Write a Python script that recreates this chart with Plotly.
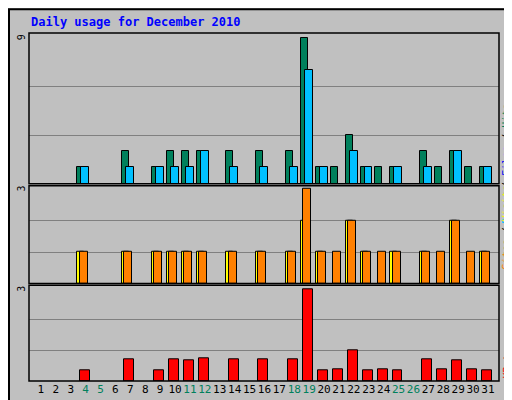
import plotly.graph_objects as go

days = list(range(1, 32))
hits = [0, 0, 0, 1, 0, 0, 2, 0, 1, 2, 2, 2, 0, 2, 0, 2, 0, 2, 9, 1, 1, 3, 1, 1, 1, 0, 2, 1, 2, 1, 1]
files = [0, 0, 0, 1, 0, 0, 1, 0, 1, 1, 1, 2, 0, 1, 0, 1, 0, 1, 7, 1, 0, 2, 1, 0, 1, 0, 1, 0, 2, 0, 1]
pages = [0] * 31
visits = [0, 0, 0, 1, 0, 0, 1, 0, 1, 1, 1, 1, 0, 1, 0, 1, 0, 1, 2, 1, 0, 2, 1, 0, 1, 0, 1, 0, 2, 0, 1]
sites = [0, 0, 0, 1, 0, 0, 1, 0, 1, 1, 1, 1, 0, 1, 0, 1, 0, 1, 3, 1, 1, 2, 1, 1, 1, 0, 1, 1, 2, 1, 1]
kbytes = [0, 0, 0, 0.36, 0, 0, 0.72, 0, 0.36, 0.72, 0.68, 0.74, 0, 0.72, 0, 0.72, 0, 0.72, 2.99,
          0.36, 0.39, 1.01, 0.36, 0.39, 0.36, 0, 0.72, 0.39, 0.68, 0.39, 0.36]
weekend = [4, 5, 11, 12, 18, 19, 25, 26]

MONO = "DejaVu Sans Mono"
line = dict(color="black", width=1)

fig = go.Figure()

def bars(y, color, off, w, ax):
    # only draw non-zero days, like webalizer
    xs = [d for d, v in zip(days, y) if v > 0]
    ys = [v for v in y if v > 0]
    fig.add_trace(go.Bar(x=xs, y=ys, offset=off, width=w, marker=dict(color=color, line=line),
                         xaxis="x", yaxis=ax, showlegend=False, hoverinfo="skip"))

bars(hits, "#00805C", -0.55, 0.47, "y")
bars(files, "#00C0FF", -0.28, 0.53, "y")
bars(pages, "#00E0FF", -0.05, 0.45, "y")
bars(visits, "#FFFF00", -0.55, 0.47, "y2")
bars(sites, "#FF8000", -0.4, 0.53, "y2")
bars(kbytes, "#FF0000", -0.4, 0.66, "y3")

ticktext = [f"<span style='color:#00805C'>{d}</span>" if d in weekend else str(d) for d in days]

yax = dict(showticklabels=False, ticks="", showgrid=True, gridcolor="#808080", gridwidth=1,
           zeroline=False, showline=False, fixedrange=True)

# frames around each panel and the whole picture
shapes = [dict(type="rect", xref="paper", yref="paper",
               x0=-20 / 470, x1=1 + 20 / 470, y0=-21 / 353, y1=1 + 24 / 353,
               line=dict(color="black", width=2))]
for ax in ["y", "y2", "y3"]:
    shapes.append(dict(type="rect", xref="paper", yref=ax + " domain", x0=0, x1=1, y0=0, y1=1,
                       line=dict(color="black", width=1.5)))

fig.update_layout(
    width=512, height=400,
    margin=dict(l=21, r=21, t=25, b=22),
    paper_bgcolor="#C0C0C0", plot_bgcolor="#C0C0C0",
    barmode="overlay", bargap=0,
    font=dict(family=MONO, size=10, color="black"),
    xaxis=dict(anchor="y3", range=[0.2, 31.74], tickvals=days, ticktext=ticktext, ticks="",
               showgrid=False, zeroline=False, showline=False, tickangle=0,
               tickfont=dict(family=MONO, size=11)),
    yaxis=dict(yax, domain=[0.567, 1], range=[0, 9.3], tickvals=[3, 6]),
    yaxis2=dict(yax, domain=[0.28, 0.561], range=[0, 3.1], tickvals=[1, 2]),
    yaxis3=dict(yax, domain=[0, 0.275], range=[0, 3.13], tickvals=[1, 2]),
    shapes=shapes,
)

annos = [
    dict(x=0, y=1.0, xref="paper", yref="paper", xanchor="left", yanchor="bottom", yshift=2,
         text="<b>Daily usage for December 2010</b>", showarrow=False,
         font=dict(family=MONO, size=12, color="#0000FF")),
    dict(x=0, y=9, xref="paper", yref="y", text="9", textangle=-90, xanchor="right", showarrow=False),
    dict(x=0, y=3, xref="paper", yref="y2", text="3", textangle=-90, xanchor="right", showarrow=False),
    dict(x=0, y=3, xref="paper", yref="y3", text="3", textangle=-90, xanchor="right", showarrow=False),
    dict(x=1, y=0.8, xref="paper", yref="paper", xanchor="left", textangle=-90, showarrow=False,
         text="<span style='color:#00C0FF'>Pages</span> / <span style='color:#0000FF'>Files</span>"
              " / <span style='color:#00805C'>Hits</span>"),
    dict(x=1, y=0.44, xref="paper", yref="paper", xanchor="left", textangle=-90, showarrow=False,
         text="<span style='color:#FF8000'>Sites</span> / <span style='color:#FFFF00'>Visits</span>"),
    dict(x=1, y=0.0, xref="paper", yref="paper", xanchor="left", yanchor="bottom", textangle=-90,
         showarrow=False, text="<span style='color:#FF0000'>KBytes</span>"),
]
fig.update_layout(annotations=annos)

fig.write_html("out.html")
